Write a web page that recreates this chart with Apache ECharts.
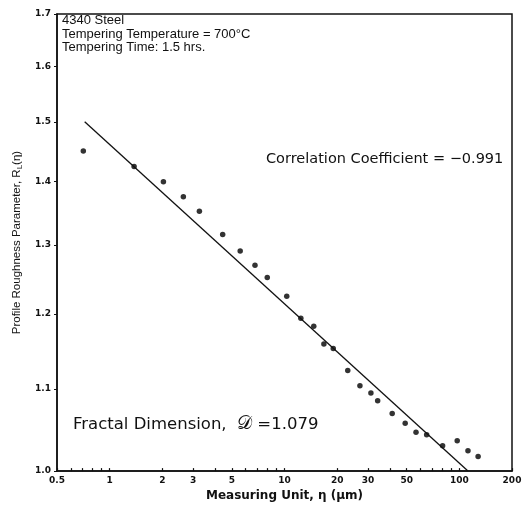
<!DOCTYPE html>
<html>
<head>
<meta charset="utf-8">
<script src="https://cdn.jsdelivr.net/npm/echarts@6/dist/echarts.min.js"></script>
<style>
    html, body { margin: 0; padding: 0; background: #fff; }
    #chart { width: 526px; height: 507px; }
</style>
</head>
<body>
<div id="chart"></div>
<script>
// measured points: measuring unit eta (um) vs profile roughness R_L(eta)
const etaValues = [0.707, 1.38, 2.03, 2.64, 3.26, 4.43, 5.58, 6.78, 7.97, 10.3, 12.4, 14.7, 16.8,
    19.0, 23.0, 27.0, 31.2, 34.1, 41.3, 49.0, 56.5, 65.0, 80.2, 97.2, 112, 128];
const roughValues = [1.450, 1.424, 1.399, 1.375, 1.352, 1.316, 1.291, 1.270, 1.252, 1.225, 1.194, 1.183, 1.159,
    1.153, 1.124, 1.104, 1.095, 1.085, 1.069, 1.057, 1.046, 1.043, 1.030, 1.036, 1.024, 1.017];

// fitted line, end points
const fitEta = [0.72, 112];
const fitRough = [1.50, 1.0];

// axis ticks
const xTickLabels = [0.5, 1, 2, 3, 5, 10, 20, 30, 50, 100, 200];
const xMinorTicks = [0.5, 0.6, 0.7, 0.8, 0.9, 1, 2, 3, 4, 5, 6, 7, 8, 9, 10, 20, 30, 40, 50, 60, 70, 80, 90, 100, 200];
const yTickLabels = [1.0, 1.1, 1.2, 1.3, 1.4, 1.5, 1.6, 1.7];

const textColor = "#111";
const tickFont = { color: textColor, fontSize: 9, fontWeight: "bold", fontFamily: "DejaVu Sans" };

let mychart = echarts.init(document.getElementById("chart"), null, { renderer: "canvas" });
let option = {
    animation: false,
    grid: { left: 57, right: 14, top: 14, bottom: 27, show: true, borderColor: "#111", borderWidth: 1.5 },
    xAxis: {
        type: "log",
        logBase: 10,
        min: 0.5,
        max: 200,
        name: "Measuring Unit, η (μm)",
        nameLocation: "middle",
        nameGap: 16,
        nameTextStyle: { color: textColor, fontSize: 12, fontWeight: "bold", fontFamily: "DejaVu Sans" },
        axisLine: { lineStyle: { color: "#111", width: 1.5 } },
        axisTick: { inside: true, length: 3, customValues: xMinorTicks, lineStyle: { color: "#111", width: 1.2 } },
        axisLabel: { ...tickFont, margin: 5, customValues: xTickLabels, formatter: (v) => String(v) },
        minorTick: { show: false },
        splitLine: { show: false },
    },
    yAxis: {
        type: "log",
        logBase: 10,
        min: 1.0,
        max: 1.7,
        name: "Profile Roughness Parameter, R{s|L}(η)",
        nameLocation: "middle",
        nameGap: 33,
        nameTextStyle: {
            color: textColor, fontSize: 11.5, fontFamily: "Liberation Sans",
            rich: { s: { fontSize: 8, fontFamily: "Liberation Sans", color: textColor, padding: [6, 0, 0, 0] } },
        },
        axisLine: { lineStyle: { color: "#111", width: 1.5 } },
        axisTick: { inside: false, length: 3, customValues: yTickLabels, lineStyle: { color: "#111" } },
        axisLabel: { ...tickFont, margin: 6, customValues: yTickLabels, formatter: (v) => v.toFixed(1) },
        splitLine: { show: false },
    },
    graphic: [
        {
            type: "text", left: 62, top: 14,
            style: {
                text: "4340 Steel\nTempering Temperature = 700°C\nTempering Time: 1.5 hrs.",
                font: "13px 'Liberation Sans'", fill: textColor, lineHeight: 13.5,
            },
        },
        {
            type: "text", left: 266, top: 152,
            style: { text: "Correlation Coefficient = −0.991", font: "14.5px 'DejaVu Sans'", fill: textColor },
        },
        {
            type: "text", left: 73, top: 415,
            style: {
                text: "Fractal Dimension,  {d|𝒟} =1.079",
                font: "16.5px 'DejaVu Sans'", fill: textColor,
                rich: { d: { fontSize: 19, fontFamily: "DejaVu Sans", fill: textColor } },
            },
        },
    ],
    series: [
        {
            name: "fit",
            type: "line",
            data: fitEta.map((x, i) => [x, fitRough[i]]),
            showSymbol: false,
            lineStyle: { color: "#111", width: 1.3 },
        },
        {
            name: "measured",
            type: "scatter",
            data: etaValues.map((x, i) => [x, roughValues[i]]),
            symbolSize: 5.5,
            itemStyle: { color: "#000" },
        },
    ],
};
mychart.setOption(option);
</script>
</body>
</html>
